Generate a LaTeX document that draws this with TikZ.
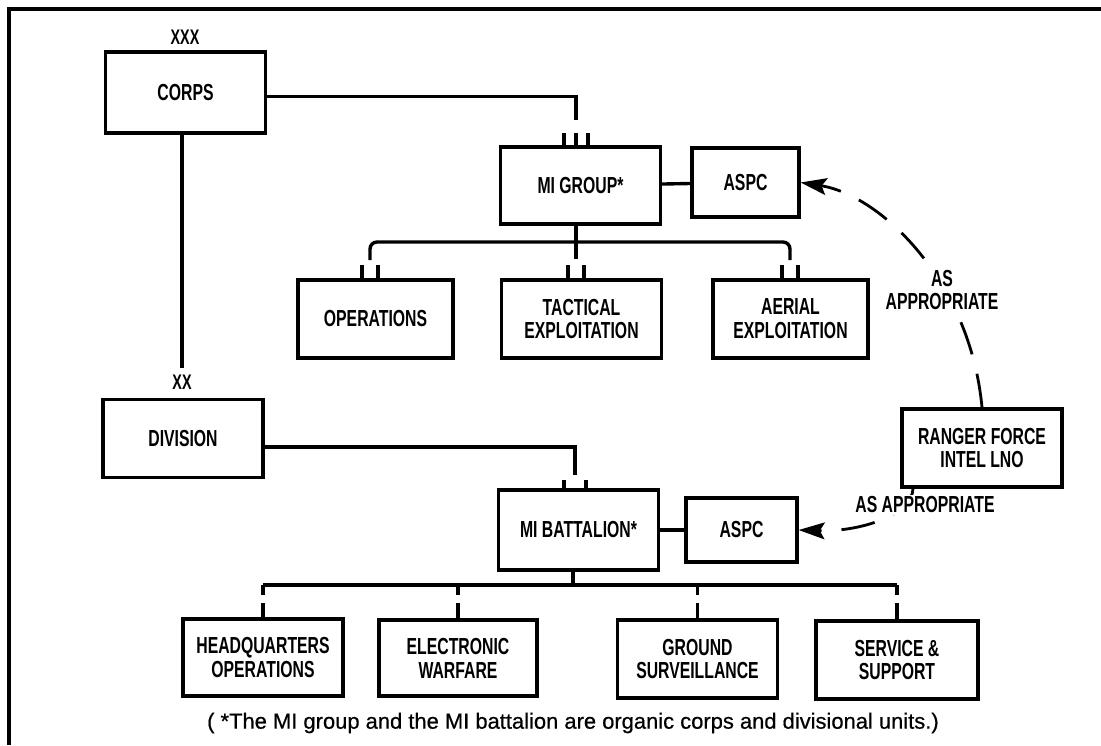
\documentclass[tikz,border=0pt]{standalone}
\usepackage{fontspec}
\setmainfont{Liberation Sans}
\newfontfamily\unitfont[FakeStretch=0.68]{Liberation Sans}
\newfontfamily\footfont[FakeBold=0.6]{Liberation Sans}
\usetikzlibrary{arrows.meta,calc}
\begin{document}
\begin{tikzpicture}[x=0.025cm,y=-0.025cm,line width=2.4pt,
    unit/.style={draw,line width=2.3pt,inner sep=0pt,align=center,minimum width=4cm,minimum height=1.95cm,font=\unitfont\bfseries\fontsize{16.5}{17}\selectfont},
    echelon/.style={font=\unitfont\bfseries\fontsize{15}{15}\selectfont},
    note/.style={fill=white,inner sep=1pt,align=center,font=\unitfont\bfseries\fontsize{16.5}{17}\selectfont},
    drop/.style={dash pattern=on 0.25cm off 0.2cm on 0.5cm},
    maybe/.style={line width=2pt,dash pattern=on 0.85cm off 0.5cm,-{Stealth[length=0.65cm,width=0.42cm,inset=0.12cm]}}]
    \useasboundingbox (0,0) rectangle (1101,745);
    \draw[line width=3pt] (1101,9)--(9,9)--(9,745);
    \node[unit,minimum height=2.025cm] (corps) at (185.5,92.5){CORPS};
    \node[echelon] (xxx) at (185,37){XXX};
    \node[unit] (division) at (183,438.5){DIVISION};
    \node[echelon] (xx) at (182,382){XX};
    \node[unit,minimum height=1.925cm] (migroup) at (580.5,185.5){MI GROUP*};
    \node[unit,minimum width=2.675cm,minimum height=1.725cm] (aspcg) at (745.5,182.5){ASPC};
    \node[unit,minimum width=3.875cm] (ops) at (375.5,319){OPERATIONS};
    \node[unit] (tac) at (581.5,319){TACTICAL\\EXPLOITATION};
    \node[unit,minimum width=3.875cm] (aer) at (790.5,319){AERIAL\\EXPLOITATION};
    \node[unit] (rng) at (982,448){RANGER FORCE\\INTEL LNO};
    \node[unit,minimum height=2cm] (mibn) at (578.5,530){MI BATTALION*};
    \node[unit,minimum width=2.775cm,minimum height=1.6cm] (aspcb) at (741.5,530){ASPC};
    \node[unit,minimum height=1.925cm] (hq) at (263,657.5){HEADQUARTERS\\OPERATIONS};
    \node[unit,minimum width=3.95cm,minimum height=1.9cm] (ew) at (458,658){ELECTRONIC\\WARFARE};
    \node[unit] (gnd) at (697.5,659){GROUND\\SURVEILLANCE};
    \node[unit,minimum width=4.05cm] (svc) at (897,660){SERVICE \&\\SUPPORT};
    \draw (corps.south -| xx) -- (xx.north);
    \coordinate (gtop) at (576,120);
    \coordinate (gmid) at (576,242);
    \coordinate (gops) at (370,260);
    \coordinate (gaer) at (790,260);
    \draw ([yshift=-3pt]corps.east) -| (gtop);
    \foreach \d in {-12,0,12} \draw ($(gtop)+(\d,13)$) -- ++(0,14);
    \draw (migroup.south -| gmid) -- ++(0,33);
    \draw[rounded corners=5pt] (gops) |- (gmid) -| (gaer);
    \foreach \x in {370,576,790} \foreach \d in {-8,8} \draw (\x+\d,265) -- (\x+\d,280);
    \draw (migroup) -- (aspcg);
    \coordinate (btop) at (575,475);
    \coordinate (bmid) at (573,585);
    \draw ([yshift=-6pt]division.east) -| (btop);
    \foreach \d in {-11,11} \draw ($(btop)+(\d,5)$) -- ++(0,10);
    \draw (mibn.south -| bmid) -- (bmid);
    \draw (hq.north |- bmid) -- (svc.north |- bmid);
    \foreach \n in {hq,ew,gnd,svc} \draw[drop] (\n.north |- bmid) -- (\n.north);
    \draw (mibn) -- (aspcb);
    \draw[maybe] (rng.north) .. controls (970,280) and (880,195) .. (aspcg.east);
    \draw[maybe] ([xshift=9pt]rng.south west) .. controls (912,515) and (860,532) .. (aspcb.east);
    \node[note] (apg) at (942,290){AS\\APPROPRIATE};
    \node[note] (apb) at (925,505){AS APPROPRIATE};
    \node[font=\footfont\fontsize{15.6}{18}\selectfont] (foot) at (573,723){( *The MI group and the MI battalion are organic corps and divisional units.)};
\end{tikzpicture}
\end{document}
